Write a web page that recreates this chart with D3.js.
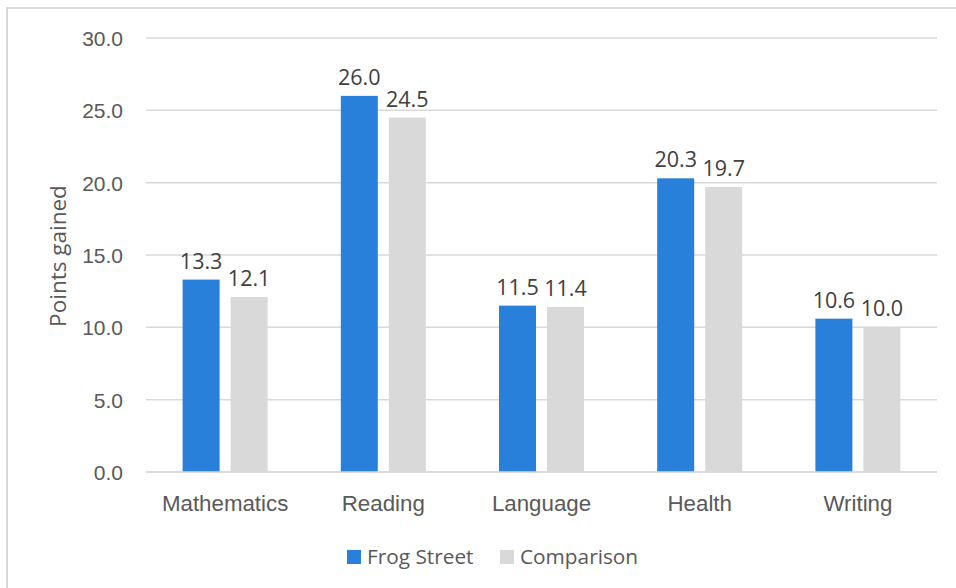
<!DOCTYPE html>
<html>
<head>
<meta charset="utf-8">
<script src="https://cdn.jsdelivr.net/npm/d3@7"></script>
<style>
  html, body { margin: 0; padding: 0; background: #fff; }
  svg { display: block; font-family: "Open Sans", "Noto Sans", sans-serif; }
</style>
</head>
<body>
<svg id="chart" width="956" height="588"></svg>
<script>
// Gains by subject area
const categories = ["Mathematics", "Reading", "Language", "Health", "Writing"];
const seriesNames = ["Frog Street", "Comparison"];
const frogStreet = [13.3, 26.0, 11.5, 20.3, 10.6];
const comparison = [12.1, 24.5, 11.4, 19.7, 10.0];
const yTicks = [0, 5, 10, 15, 20, 25, 30];
const yTitle = "Points gained";

const colors = { "Frog Street": "#2880DA", "Comparison": "#D9D9D9" };

const svg = d3.select("#chart");
const W = 956, H = 588;
const plot = { left: 146, right: 937, top: 38, bottom: 472 };

// Outer frame
svg.append("rect")
  .attr("x", 7).attr("y", 8)
  .attr("width", W + 20).attr("height", H + 20)
  .attr("fill", "#fff")
  .attr("stroke", "#D9D9D9").attr("stroke-width", 2);

const x0 = d3.scaleBand().domain(categories).range([plot.left, plot.right]).paddingInner(0).paddingOuter(0);
const y = d3.scaleLinear().domain([0, 30]).range([plot.bottom, plot.top]);

// Horizontal gridlines
svg.append("g").selectAll("line")
  .data(yTicks)
  .join("line")
  .attr("x1", plot.left).attr("x2", plot.right)
  .attr("y1", d => y(d)).attr("y2", d => y(d))
  .attr("stroke", "#D9D9D9").attr("stroke-width", 1.5);

// Y axis tick labels
const yAxis = d3.axisLeft(y).tickValues(yTicks).tickFormat(d3.format(".1f")).tickSize(0).tickPadding(0);
const yg = svg.append("g").attr("transform", `translate(${plot.left - 23},0)`).call(yAxis);
yg.select(".domain").remove();
yg.selectAll("text")
  .attr("fill", "#595959")
  .style("font-size", "21px")
  .attr("dy", "0.35em");

// X axis category labels
const xAxis = d3.axisBottom(x0).tickSize(0).tickPadding(0);
const xg = svg.append("g").attr("transform", `translate(0,${plot.bottom + 39})`).call(xAxis);
xg.select(".domain").remove();
xg.selectAll("text")
  .attr("y", 0)
  .attr("dy", 0)
  .attr("fill", "#595959")
  .style("font-size", "22.3px");

// Y axis title
svg.append("text")
  .attr("transform", `translate(58,${(plot.top + plot.bottom) / 2 + 1}) rotate(-90)`)
  .attr("text-anchor", "middle")
  .attr("dy", "0.35em")
  .attr("fill", "#595959")
  .style("font-size", "22.5px")
  .text(yTitle);

// Bars
const barW = 37, gap = 11;
const x1 = d3.scaleOrdinal().domain(seriesNames).range([-(gap / 2) - barW, gap / 2]);

const rows = categories.map((c, i) => ({
  cat: c,
  values: [
    { key: "Frog Street", value: frogStreet[i] },
    { key: "Comparison", value: comparison[i] }
  ]
}));

const groups = svg.append("g").selectAll("g")
  .data(rows)
  .join("g")
  .attr("transform", d => `translate(${x0(d.cat) + x0.bandwidth() / 2},0)`);

groups.selectAll("rect")
  .data(d => d.values)
  .join("rect")
  .attr("x", d => x1(d.key))
  .attr("y", d => y(d.value))
  .attr("width", barW)
  .attr("height", d => y(0) - y(d.value))
  .attr("fill", d => colors[d.key]);

// Value labels
groups.selectAll("text.val")
  .data(d => d.values)
  .join("text")
  .attr("class", "val")
  .attr("x", d => x1(d.key) + barW / 2)
  .attr("y", d => y(d.value) - 11)
  .attr("text-anchor", "middle")
  .attr("fill", "#404040")
  .style("font-size", "21.5px")
  .text(d => d3.format(".1f")(d.value));

// Baseline
svg.append("line")
  .attr("x1", plot.left).attr("x2", plot.right)
  .attr("y1", y(0)).attr("y2", y(0))
  .attr("stroke", "#D9D9D9").attr("stroke-width", 1.5);

// Legend
const legend = svg.append("g");
const legendItems = [
  { key: "Frog Street", x: 347 },
  { key: "Comparison", x: 500 }
];
legendItems.forEach(it => {
  legend.append("rect")
    .attr("x", it.x).attr("y", 550)
    .attr("width", 14).attr("height", 14)
    .attr("fill", colors[it.key]);
  legend.append("text")
    .attr("x", it.x + 20).attr("y", 557)
    .attr("dy", "0.35em")
    .attr("fill", "#595959")
    .style("font-size", "20.8px")
    .text(it.key);
});
</script>
</body>
</html>
